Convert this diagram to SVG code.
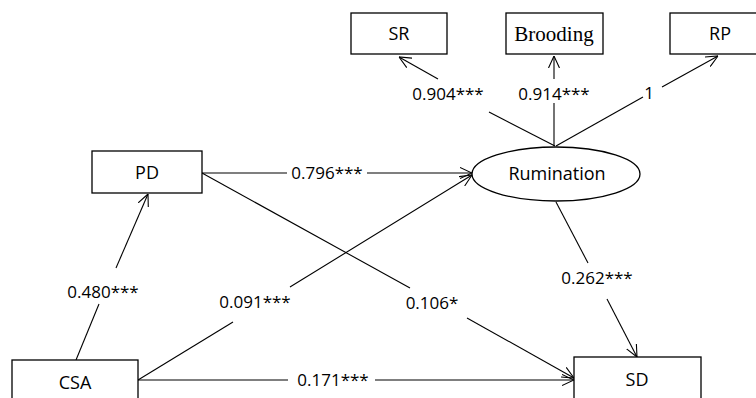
<svg xmlns="http://www.w3.org/2000/svg" width="756" height="398" viewBox="0 0 756 398">
<style>
.box{fill:#fff;stroke:#000;stroke-width:1.3}
.ln{fill:none;stroke:#000;stroke-width:1.1}
.nt{font-family:"Open Sans","Noto Sans",sans-serif;font-size:18px;text-anchor:middle;fill:#000}
.lb{font-family:"Open Sans","Noto Sans",sans-serif;font-size:17px;text-anchor:middle;fill:#000}
.tm{font-family:"Liberation Serif","Times New Roman",serif;font-size:21px;text-anchor:middle;fill:#000}
</style>
<defs>
<marker id="ah" viewBox="0 0 12 12" refX="12" refY="6" markerWidth="12" markerHeight="12" markerUnits="userSpaceOnUse" orient="auto">
<path d="M0,0.5 L12,6 L0,11.5" fill="none" stroke="#000" stroke-width="1.1"/>
</marker>
</defs>
<rect width="756" height="398" fill="#fff"/>
<g id="connectors">
<line class="ln" x1="555" y1="146" x2="489" y2="112"/>
<line class="ln" x1="438" y1="79" x2="399" y2="57" marker-end="url(#ah)"/>
<line class="ln" x1="554" y1="146" x2="554" y2="103"/>
<line class="ln" x1="554" y1="79" x2="554" y2="56" marker-end="url(#ah)"/>
<line class="ln" x1="556" y1="146" x2="643" y2="97"/>
<line class="ln" x1="662" y1="87" x2="718" y2="56" marker-end="url(#ah)"/>
<line class="ln" x1="202" y1="173" x2="287" y2="173"/>
<line class="ln" x1="367" y1="173" x2="472" y2="173" marker-end="url(#ah)"/>
<line class="ln" x1="138" y1="380" x2="233" y2="322"/>
<line class="ln" x1="290" y1="287" x2="472" y2="175" marker-end="url(#ah)"/>
<line class="ln" x1="76" y1="360" x2="99" y2="304"/>
<line class="ln" x1="116" y1="268" x2="148" y2="194" marker-end="url(#ah)"/>
<line class="ln" x1="202" y1="173" x2="410" y2="288"/>
<line class="ln" x1="467" y1="318" x2="574" y2="378" marker-end="url(#ah)"/>
<line class="ln" x1="138" y1="380" x2="288" y2="380"/>
<line class="ln" x1="375" y1="380" x2="574" y2="380" marker-end="url(#ah)"/>
<line class="ln" x1="556" y1="202" x2="588" y2="263"/>
<line class="ln" x1="607" y1="299" x2="637" y2="357" marker-end="url(#ah)"/>
<text class="lb" x="448" y="100">0.904***</text>
<text class="lb" x="554" y="100">0.914***</text>
<text class="lb" x="649" y="99">1</text>
<text class="lb" x="327" y="179">0.796***</text>
<text class="lb" x="103" y="298">0.480***</text>
<text class="lb" x="255" y="308">0.091***</text>
<text class="lb" x="432" y="309">0.106*</text>
<text class="lb" x="597" y="284">0.262***</text>
<text class="lb" x="333" y="386">0.171***</text>
</g>
<g id="SR"><rect class="box" x="351" y="13" width="96" height="41"/><text class="nt" x="399" y="40">SR</text></g>
<g id="Brooding"><rect class="box" x="506" y="13" width="97" height="41"/><text class="tm" x="554" y="41">Brooding</text></g>
<g id="RP"><rect class="box" x="670" y="13" width="96" height="41"/><text class="nt" x="720" y="40">RP</text></g>
<g id="Rumination"><ellipse class="box" cx="556" cy="174" rx="84" ry="27"/><text class="nt" x="557" y="180">Rumination</text></g>
<g id="PD"><rect class="box" x="92" y="151" width="110" height="42"/><text class="nt" x="147" y="179">PD</text></g>
<g id="CSA"><rect class="box" x="12" y="360" width="126" height="50"/><text class="nt" x="75" y="389">CSA</text></g>
<g id="SD"><rect class="box" x="574" y="357" width="127" height="50"/><text class="nt" x="637" y="386">SD</text></g>
</svg>
